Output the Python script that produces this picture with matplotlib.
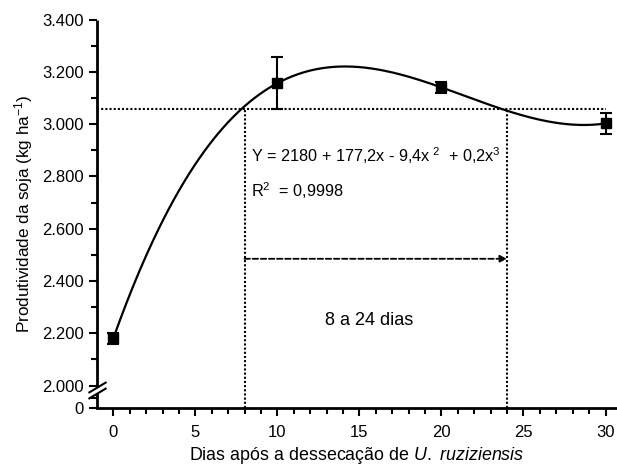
import numpy as np
import matplotlib.pyplot as plt

plt.rcParams['font.family'] = ['Liberation Sans', 'DejaVu Sans']
plt.rcParams['mathtext.fontset'] = 'custom'
plt.rcParams['mathtext.rm'] = 'Liberation Sans'
plt.rcParams['mathtext.it'] = 'Liberation Sans:italic'

# dados
dias = [0, 10, 20, 30]
produtividade = [2180, 3157, 3141, 3003]
erro = [20, 100, 22, 40]

yticks = [1914, 2000, 2200, 2400, 2600, 2800, 3000, 3200, 3400]
ytick_labels = ["0", "2.000", "2.200", "2.400", "2.600", "2.800", "3.000", "3.200", "3.400"]
xticks = [0, 5, 10, 15, 20, 25, 30]

nivel = 3060          # produtividade de referencia
inicio, fim = 8, 24   # intervalo de dias
y_seta = 2485

fig = plt.figure(figsize=(6.17, 4.65), dpi=100)
ax = fig.add_axes([0.157, 0.1226, 0.843, 0.835])

# curva ajustada (polinomio cubico)
coef = np.polyfit(dias, produtividade, 3)
xs = np.linspace(0, 30, 300)
ax.plot(xs, np.polyval(coef, xs), color="black", lw=1.6, zorder=3)

ax.errorbar(dias, produtividade, yerr=erro, fmt="s", color="black", ms=7,
            capsize=4, elinewidth=1.5, capthick=1.5, zorder=4)

# linhas de referencia
ax.plot([-1, 30], [nivel, nivel], color="black", ls=(0, (1, 1)), lw=1.5)
ax.plot([inicio, inicio], [1914, nivel], color="black", ls=(0, (1, 1)), lw=1.5)
ax.plot([fim, fim], [1914, nivel], color="black", ls=(0, (1, 1)), lw=1.5)
ax.annotate("", xy=(fim, y_seta), xytext=(inicio, y_seta),
            arrowprops=dict(arrowstyle="-|>", color="black", lw=1.3, ls=(0, (3, 1.5)),
                            mutation_scale=10, shrinkA=0, shrinkB=0))

ax.text(8.4, 2880, r"Y = 2180 + 177,2x - 9,4x$^{\ 2}$  + 0,2x$^{3}$", fontsize=11.7, va="center")
ax.text(8.4, 2745, r"R$^{2}$  = 0,9998", fontsize=11.7, va="center")
ax.text(12.9, 2250, "8 a 24 dias", fontsize=13, va="center")

ax.set_xlim(-1, 30.7)
ax.set_ylim(1914, 3400)
ax.set_xticks(xticks)
ax.set_xticks(range(0, 31), minor=True)
ax.set_yticks(yticks)
ax.set_yticklabels(ytick_labels)
ax.set_yticks([1952] + list(range(2100, 3400, 200)), minor=True)
ax.tick_params(axis="both", which="major", labelsize=12, width=1.5, length=6, direction="out")
ax.tick_params(axis="x", which="major", pad=6)
ax.tick_params(axis="both", which="minor", width=1.5, length=4, direction="out")

for s in ["top", "right", "left"]:
    ax.spines[s].set_visible(False)
ax.spines["bottom"].set_linewidth(2)

# eixo y com quebra
ax.plot([-1, -1], [1914, 1972], color="black", lw=2, clip_on=False, solid_capstyle="butt")
ax.plot([-1, -1], [1996, 3400], color="black", lw=2, clip_on=False, solid_capstyle="butt")
ax.plot([-1, -1], [1972, 1996], ls="none", marker=[(-1, -0.6), (1, 0.6)], ms=13,
        mec="black", mew=1.5, clip_on=False)

ax.set_xlabel(r"Dias após a dessecação de $\mathit{U.\ ruziziensis}$", fontsize=12.9, labelpad=4)
ax.set_ylabel(r"Produtividade da soja (kg ha$^{-1}$)", fontsize=12.3, labelpad=5)

plt.savefig("out.png", dpi=100)
